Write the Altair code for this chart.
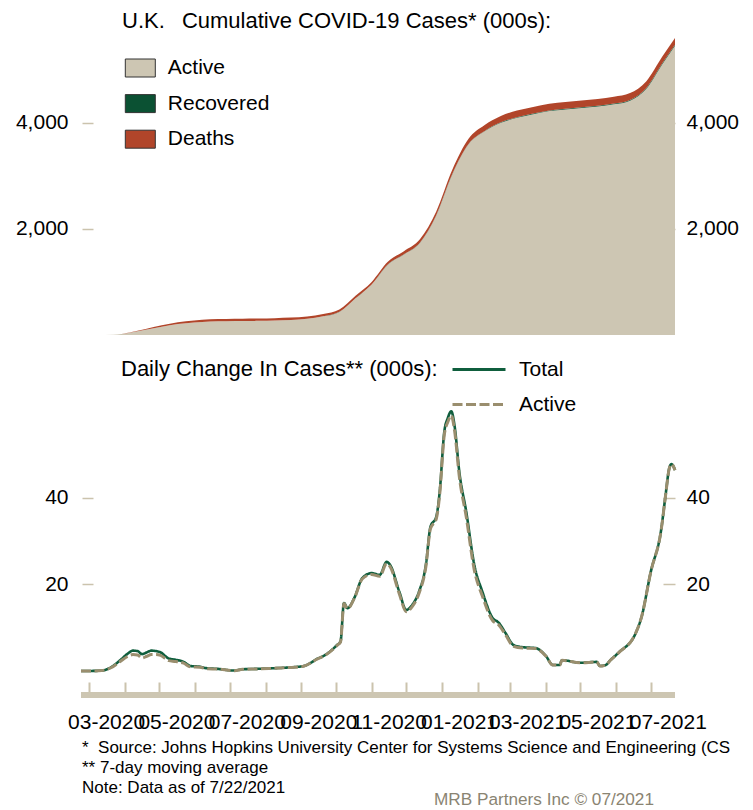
import altair as alt
import pandas as pd

FONT = "Liberation Sans"
TAN = "#cdc6b2"
TICK = "#cbc3ad"

# ---------------- cumulative cases (000s) ----------------
cum_dates = ["2020-02-23", "2020-03-08", "2020-03-22", "2020-04-05", "2020-04-19", "2020-05-03",
             "2020-05-17", "2020-05-31", "2020-06-14", "2020-06-28", "2020-07-12", "2020-07-26",
             "2020-08-09", "2020-08-23", "2020-09-06", "2020-09-20", "2020-10-04", "2020-10-18",
             "2020-11-01", "2020-11-15", "2020-11-29", "2020-12-13", "2020-12-27", "2021-01-10",
             "2021-01-24", "2021-02-07", "2021-02-21", "2021-03-07", "2021-03-21", "2021-04-04",
             "2021-04-18", "2021-05-02", "2021-05-16", "2021-05-30", "2021-06-13", "2021-06-27",
             "2021-07-11", "2021-07-22"]
cum_active = [0, 0.3, 5.6, 42.7, 98.2, 156.2, 206.9, 236.2, 254.0, 260.2, 262.7, 266.7, 272.7,
              284.7, 306.7, 351.5, 435.7, 694, 951, 1325, 1517.6, 1740.5, 2253.1, 3031.6, 3594.5,
              3838.5, 3999.4, 4094.4, 4161.8, 4220.7, 4249.7, 4279, 4308.3, 4347.7, 4417, 4636.2,
              5105.4, 5454.3]
cum_recovered = [0, 0, 0.1, 0.3, 0.3, 0.3, 0.3, 0.3, 0.3, 0.3, 0.3, 0.3, 0.3, 0.3, 0.3, 0.3,
                 0.5, 1, 2, 3, 4, 5, 6, 7, 8, 9, 10, 11, 12, 12.5, 13, 13.5, 14, 14.5, 15, 15.5,
                 16, 16.5]
cum_deaths = [0, 0, 0.3, 5, 16.5, 28.5, 34.8, 38.5, 41.7, 42.5, 43, 43, 43, 43, 43, 43.2, 43.8,
              45, 47, 52, 58.4, 64.5, 70.9, 81.4, 97.5, 112.5, 120.6, 124.6, 126.2, 126.8, 127.3,
              127.5, 127.7, 127.8, 128, 128.3, 128.6, 129.2]
components = ["Active", "Recovered", "Deaths"]
component_colors = ["#cdc6b3", "#0b5133", "#b1452a"]

# ---------------- daily change (000s, 7-day avg) ----------------
daily_dates = ["2020-02-23", "2020-03-05", "2020-03-12", "2020-03-20", "2020-03-28", "2020-04-03",
               "2020-04-08", "2020-04-12", "2020-04-16", "2020-04-20", "2020-04-24", "2020-04-28",
               "2020-05-02", "2020-05-09", "2020-05-15", "2020-05-22", "2020-05-28", "2020-06-05",
               "2020-06-12", "2020-06-20", "2020-07-05", "2020-07-12", "2020-07-25", "2020-08-04",
               "2020-08-20", "2020-09-03", "2020-09-10", "2020-09-14", "2020-09-19", "2020-09-25",
               "2020-10-02", "2020-10-05", "2020-10-08", "2020-10-11", "2020-10-17", "2020-10-24",
               "2020-11-01", "2020-11-08", "2020-11-14", "2020-11-17", "2020-11-25", "2020-12-01",
               "2020-12-06", "2020-12-12", "2020-12-18", "2020-12-22", "2020-12-27", "2020-12-30",
               "2021-01-03", "2021-01-06", "2021-01-09", "2021-01-12", "2021-01-16", "2021-01-22",
               "2021-01-29", "2021-02-05", "2021-02-14", "2021-02-19", "2021-02-25", "2021-03-04",
               "2021-03-12", "2021-03-23", "2021-04-01", "2021-04-07", "2021-04-13", "2021-04-15",
               "2021-05-01", "2021-05-15", "2021-05-18", "2021-05-23", "2021-05-27", "2021-06-03",
               "2021-06-18", "2021-06-23", "2021-07-01", "2021-07-10", "2021-07-14", "2021-07-17",
               "2021-07-19", "2021-07-22"]
daily_total = [0.0, 0.02, 0.1, 0.85, 2.5, 3.9, 4.7, 4.6, 3.9, 4.3,
               4.7, 4.6, 4.3, 2.9, 2.6, 2.1, 1.15, 1.0, 0.6, 0.5,
               0.1, 0.4, 0.5, 0.6, 0.8, 1.15, 2.0, 2.7, 3.3, 4.3,
               6.0, 6.8, 15.7, 14.5, 16.9, 21.5, 22.6, 22.2, 25.2, 24.5,
               18.3, 14.1, 15.2, 18.3, 24.5, 33.3, 35.6, 41.4, 55.3, 58.4,
               60.0, 56.4, 46.0, 36.8, 24.5, 18.3, 12.2, 11.2, 8.8, 6.0,
               5.5, 5.3, 3.5, 1.4, 1.4, 2.5, 1.9, 2.1, 1.15, 1.4,
               2.5, 4.2, 8.8, 12.5, 22.9, 32.6, 41.0, 46.8, 47.8, 46.4]
daily_active = [0.0, 0.02, 0.1, 0.75, 2.2, 3.3, 3.8, 3.7, 3.0, 3.4,
                3.8, 3.8, 3.6, 2.4, 2.2, 1.8, 0.95, 0.85, 0.5, 0.45,
                0.08, 0.38, 0.48, 0.58, 0.78, 1.12, 1.97, 2.66, 3.25, 4.25,
                5.9, 6.7, 15.6, 14.4, 16.8, 21.3, 22.3, 21.9, 24.8, 24.1,
                17.8, 13.7, 14.8, 17.9, 24.1, 32.9, 35.1, 40.8, 54.6, 57.5,
                59.0, 55.3, 44.9, 35.6, 23.3, 17.3, 11.6, 10.7, 8.4, 5.7,
                5.3, 5.2, 3.45, 1.37, 1.37, 2.47, 1.88, 2.08, 1.13, 1.38,
                2.48, 4.19, 8.79, 12.49, 22.88, 32.55, 40.95, 46.75, 47.75, 46.35]
series_names = ["Total", "Active"]
series_colors = ["#0f5e3d", "#9a8e6e"]

x_tick_months = [(2020, m) for m in range(3, 13)] + [(2021, m) for m in range(1, 8)]
top_ticks = [2000, 4000]
bottom_ticks = [20, 40]

top_title = "U.K.\u2002\u00a0Cumulative COVID-19 Cases* (000s):"
bottom_title = "Daily Change In Cases** (000s):"
footnotes = ["*\u00a0 Source: Johns Hopkins University Center for Systems Science and Engineering (CSSE)",
             "** 7-day moving average",
             "Note: Data as of 7/22/2021"]
credit = "MRB Partners Inc \u00a9 07/2021"

# ---------------- frames ----------------
n = len(cum_dates)
cum_df = pd.DataFrame({
    "date": cum_dates * 3,
    "component": ["Active"] * n + ["Recovered"] * n + ["Deaths"] * n,
    "value": cum_active + cum_recovered + cum_deaths,
    "ord": [0] * n + [1] * n + [2] * n,
})
total_df = pd.DataFrame({"date": daily_dates, "value": daily_total, "series": "Total"})
active_df = pd.DataFrame({"date": daily_dates, "value": daily_active, "series": "Active"})
one = pd.DataFrame({"k": [0]})

W = 594
H_TOP = 300
H_BOT = 268

x_scale = alt.Scale(type="utc",
                    domain=[alt.DateTime(year=2020, month=2, date=23, utc=True),
                            alt.DateTime(year=2021, month=7, date=22, utc=True)])
y_top_scale = alt.Scale(domain=[0, 5655], nice=False, zero=True)
y_bot_scale = alt.Scale(domain=[0, 61.9], nice=False, zero=True)


def y_axis(values, orient, fmt):
    if orient == "left":
        return alt.Axis(orient="left", values=values, format=fmt, domain=False, grid=False,
                        tickSize=11, tickWidth=1.5, tickColor=TICK, offset=-12, labelPadding=14,
                        labelFontSize=21, labelFont=FONT, labelColor="black", title=None)
    return alt.Axis(orient="right", values=values, format=fmt, domain=False, grid=False,
                    tickSize=12, tickWidth=1.5, tickColor=TICK, offset=-12, labelPadding=11,
                    labelFontSize=21, labelFont=FONT, labelColor="black", title=None)


top_legend = alt.Legend(
    title=top_title, orient="none", legendX=41, legendY=-24, direction="vertical",
    titleOrient="top", titleAnchor="start", titleFontSize=22, titleFontWeight="normal",
    titleColor="black", titleFont=FONT, titleLimit=2000, titlePadding=24.5,
    labelFontSize=21, labelFont=FONT, labelColor="black", labelOffset=17, labelLimit=400,
    symbolType="M-1.667,-1H1.667V1H-1.667Z", symbolSize=324, symbolStrokeColor="#333333",
    symbolStrokeWidth=1, symbolOffset=7.8, rowPadding=12.6, padding=0,
)

area = alt.Chart(cum_df).mark_area(interpolate="monotone").encode(
    x=alt.X("date:T", scale=x_scale, axis=None),
    y=alt.Y("value:Q", stack="zero", scale=y_top_scale, axis=y_axis(top_ticks, "left", ",.0f")),
    color=alt.Color("component:N", scale=alt.Scale(domain=components, range=component_colors),
                    legend=top_legend),
    order=alt.Order("ord:Q"),
)
top_right = alt.Chart(cum_df).mark_line(opacity=0).encode(
    x=alt.X("date:T", scale=x_scale, axis=None),
    y=alt.Y("value:Q", scale=y_top_scale, axis=y_axis(top_ticks, "right", ",.0f")),
)
top = alt.layer(area, top_right).resolve_scale(y="independent").properties(width=W, height=H_TOP)

bottom_legend = alt.Legend(
    title=bottom_title, orient="none", legendX=40, legendY=-44, direction="vertical",
    titleOrient="left", titleAnchor="start", titleBaseline="top", titleFontSize=22,
    titleFontWeight="normal", titleColor="black", titleFont=FONT, titleLimit=2000, titlePadding=12,
    labelFontSize=21, labelFont=FONT, labelColor="black", labelOffset=29.5,
    symbolType="M-5.3,0H5.3", symbolSize=100, symbolStrokeWidth=3, symbolOffset=18.5,
    rowPadding=13, padding=0,
)

x_axis = alt.Axis(
    values=[alt.DateTime(year=y, month=m, date=1, utc=True) for (y, m) in x_tick_months],
    labelExpr="utcmonth(datum.value) % 2 == 0 ? utcFormat(datum.value, '%m-%Y') : ''",
    domain=False, grid=False, tickSize=10, tickWidth=2, tickColor=TICK, offset=11,
    labelPadding=19, labelOffset=17, labelFontSize=21, labelFont=FONT, labelColor="black",
    labelOverlap=False, labelFlush=False, labelAngle=0, title=None,
)

color_enc = alt.Color("series:N", scale=alt.Scale(domain=series_names, range=series_colors),
                      legend=bottom_legend)
dash_enc = alt.StrokeDash("series:N", scale=alt.Scale(domain=series_names, range=[[1, 0], [10, 3.5]]),
                          legend=bottom_legend)

total_line = alt.Chart(total_df).mark_line(interpolate="monotone", strokeWidth=2.6).encode(
    x=alt.X("date:T", scale=x_scale, axis=x_axis),
    y=alt.Y("value:Q", scale=y_bot_scale, axis=y_axis(bottom_ticks, "left", "d")),
    color=color_enc, strokeDash=dash_enc,
)
active_line = alt.Chart(active_df).mark_line(interpolate="monotone", strokeWidth=3).encode(
    x=alt.X("date:T", scale=x_scale, axis=x_axis),
    y=alt.Y("value:Q", scale=y_bot_scale, axis=y_axis(bottom_ticks, "left", "d")),
    color=color_enc, strokeDash=dash_enc,
)
band = alt.Chart(one).mark_rule(color=TAN, strokeWidth=6).encode(
    x=alt.value(0), x2=alt.value(W), y=alt.value(292))

note_layers = []
for i, line in enumerate(footnotes):
    note_layers.append(
        alt.Chart(one).mark_text(text=line, align="left", baseline="middle", font=FONT,
                                 fontSize=17, color="black", limit=658, ellipsis=" ")
        .encode(x=alt.value(1), y=alt.value(345 + i * 20)))
note_layers.append(
    alt.Chart(one).mark_text(text=credit, align="left", baseline="middle", font=FONT,
                             fontSize=17.2, color="#8a8472")
    .encode(x=alt.value(353), y=alt.value(397)))

bottom_inner = alt.layer(total_line, active_line, band, *note_layers)
bottom_right = alt.Chart(total_df).mark_line(opacity=0).encode(
    x=alt.X("date:T", scale=x_scale, axis=x_axis),
    y=alt.Y("value:Q", scale=y_bot_scale, axis=y_axis(bottom_ticks, "right", "d")),
)
bottom = alt.layer(bottom_inner, bottom_right).resolve_scale(y="independent").properties(
    width=W, height=H_BOT)

chart = alt.vconcat(top, bottom, spacing=24).resolve_scale(
    color="independent", y="independent", strokeDash="independent"
).properties(
    padding={"left": 7, "top": 3, "right": 2, "bottom": 0},
    background="white",
).configure(font=FONT).configure_view(stroke=None)

chart.save("out.html", embed_options={"renderer": "svg", "actions": False})
